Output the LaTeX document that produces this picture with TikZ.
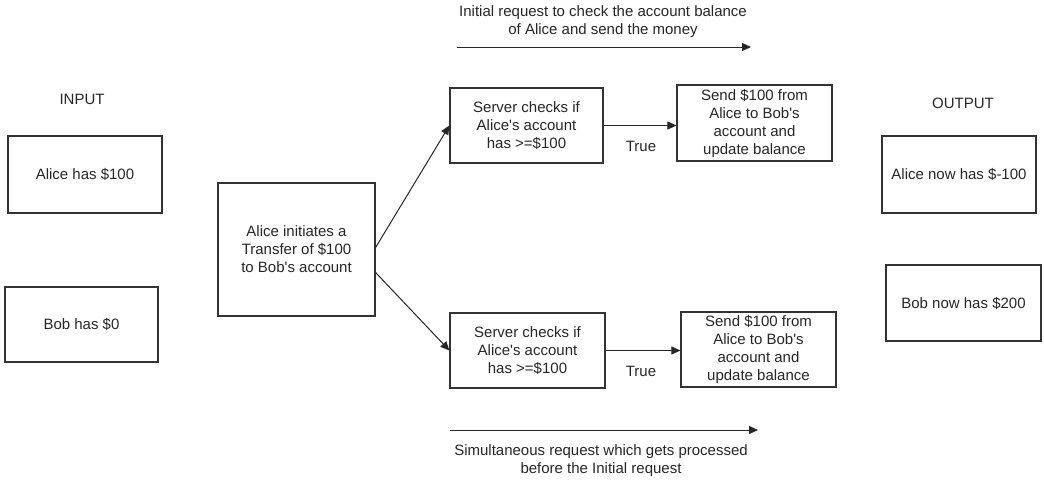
\documentclass[tikz,border=0pt]{standalone}
\usepackage{fontspec}
\setmainfont{Liberation Sans}
\usetikzlibrary{arrows.meta}
\newcommand{\ap}{\textquotesingle}
\begin{document}
\begin{tikzpicture}[x=1pt,y=-1pt,
  font=\fontsize{15}{18}\selectfont,
  box/.style={draw=black!80,line width=1.2pt,align=center,inner sep=0pt,text=black!85},
  lbl/.style={align=center,inner sep=0pt,text=black!85},
  arr/.style={line width=1pt,draw=black!85,-{Triangle[length=9pt,width=8pt]}}]
\useasboundingbox (0,0) rectangle (1044,483);
% input
\node[lbl] (input) at (82,99) {INPUT};
\node[box,minimum width=154pt,minimum height=77pt] (alice) at (85,174.5) {Alice has \$100};
\node[box,minimum width=153pt,minimum height=75pt] (bob) at (81.5,324.5) {Bob has \$0};
% center
\node[box,minimum width=157pt,minimum height=133pt] (init) at (296.5,249.5) {Alice initiates a\\Transfer of \$100\\to Bob\ap s account};
% top row
\node[box,minimum width=153pt,minimum height=75pt] (chk1) at (526.5,125.5) {Server checks if\\Alice\ap s account\\has >=\$100};
\node[box,minimum width=155pt,minimum height=76pt] (send1) at (754.5,123) {Send \$100 from\\Alice to Bob\ap s\\account and\\update balance};
\node[lbl] (true1) at (641,146) {True};
% bottom row
\node[box,minimum width=155pt,minimum height=75pt] (chk2) at (527.5,350.5) {Server checks if\\Alice\ap s account\\has >=\$100};
\node[box,minimum width=155pt,minimum height=75pt] (send2) at (758.5,349.5) {Send \$100 from\\Alice to Bob\ap s\\account and\\update balance};
\node[lbl] (true2) at (641,371) {True};
% output
\node[lbl] (output) at (963,103) {OUTPUT};
\node[box,minimum width=154pt,minimum height=77pt] (alicenow) at (959,174.5) {Alice now has \$-100};
\node[box,minimum width=155pt,minimum height=76pt] (bobnow) at (963.5,303) {Bob now has \$200};
% top / bottom notes
\node[lbl] (topnote) at (603,22) {Initial request to check the account balance\\of Alice and send the money};
\coordinate (t1) at (457,47);
\coordinate (t2) at (751,47);
\node[lbl] (botnote) at (601,461) {Simultaneous request which gets processed\\before the Initial request};
\coordinate (b1) at (450,430);
\coordinate (b2) at (758,430);
% connectors
\draw[arr] (t1) -- (t2);
\draw[arr] (b1) -- (b2);
\draw[arr] ([yshift=2pt]init.east) -- (chk1.west);
\draw[arr] ([yshift=-23pt]init.east) -- (chk2.west);
\draw[arr] (chk1.east) -- (send1.west |- chk1.east);
\draw[arr] (chk2.east) -- (send2.west |- chk2.east);
\end{tikzpicture}
\end{document}
